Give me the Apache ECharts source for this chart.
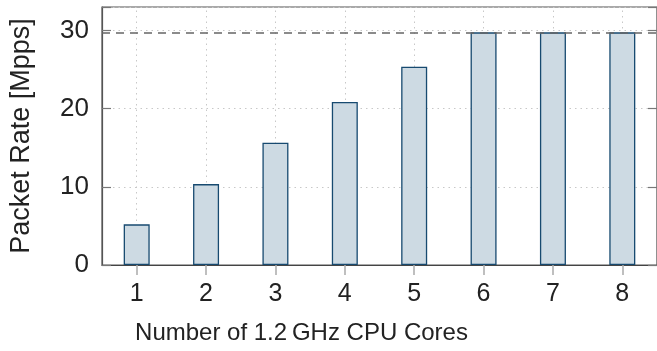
<!DOCTYPE html>
<html>
<head>
<meta charset="utf-8">
<script src="https://cdn.jsdelivr.net/npm/echarts@6/dist/echarts.min.js"></script>
<style>html,body{margin:0;padding:0;background:#fff;}#c{width:657px;height:351px;}</style>
</head>
<body>
<div id="c"></div>
<script>
const categories = ['1', '2', '3', '4', '5', '6', '7', '8'];
const packetRate = [5.2, 10.35, 15.65, 20.85, 25.35, 29.76, 29.76, 29.76];
const lineRate = 29.76;
const yTicks = [0, 10, 20, 30];
const xTitle = 'Number of 1.2\u2009GHz CPU Cores';
const yTitle = 'Packet Rate [Mpps]';

const FONT = 'Liberation Sans';
const GRID_DOT = {color: '#c8c8c8', type: [1.5, 4], width: 1};
const chart = echarts.init(document.getElementById('c'), null, {renderer: 'canvas'});
chart.setOption({
  animation: false,
  backgroundColor: '#fff',
  textStyle: {fontFamily: FONT, color: '#222'},
  grid: {left: 100, top: 7, width: 560, height: 258, show: true, borderColor: '#555', borderWidth: 1.2, containLabel: false},
  xAxis: {
    type: 'category',
    data: categories,
    boundaryGap: true,
    name: xTitle,
    nameLocation: 'middle',
    nameGap: 56,
    nameTextStyle: {fontFamily: FONT, fontSize: 24, color: '#222', padding: [0, 156, 0, 0]},
    axisLine: {show: true, lineStyle: {color: '#444', width: 1.2}},
    axisTick: {show: true, alignWithLabel: true, inside: false, length: 10, lineStyle: {color: '#aaa', width: 1.5}},
    axisLabel: {fontFamily: FONT, fontSize: 25, color: '#222', margin: 17},
    splitLine: {show: false}
  },
  yAxis: [{
    type: 'value',
    min: 0, max: 33, interval: 10,
    name: yTitle,
    nameLocation: 'middle',
    nameGap: 67,
    nameTextStyle: {fontFamily: FONT, fontSize: 27, color: '#222'},
    axisLine: {show: true, lineStyle: {color: '#555', width: 1.2}},
    axisTick: {show: true, inside: true, length: 9, lineStyle: {color: '#777', width: 1.2}},
    axisLabel: {fontFamily: FONT, fontSize: 26, color: '#222', margin: 13,
      formatter: v => yTicks.indexOf(v) >= 0 ? String(v) : ''},
    splitLine: {show: true, lineStyle: GRID_DOT}
  }, {
    type: 'value',
    position: 'right',
    min: 0, max: 33, interval: 10,
    axisLine: {show: true, lineStyle: {color: '#555', width: 1.2}},
    axisTick: {show: true, inside: true, length: 9, lineStyle: {color: '#777', width: 1.2}},
    axisLabel: {show: false},
    splitLine: {show: false}
  }],
  series: [{
    type: 'bar',
    data: packetRate,
    barWidth: 26,
    z: 3,
    itemStyle: {color: '#cddae3', borderColor: '#174a70', borderWidth: 1.3},
    markLine: {
      silent: true,
      symbol: 'none',
      z: 4,
      label: {show: false},
      data: [{yAxis: lineRate, lineStyle: {color: '#666', type: [8, 6], width: 1.5}}]
    }
  }, {
    type: 'line',
    data: [],
    markLine: {
      silent: true,
      symbol: 'none',
      z: 1,
      label: {show: false},
      lineStyle: GRID_DOT,
      data: categories.map((c, i) => ({xAxis: i, lineStyle: GRID_DOT}))
    }
  }]
});
</script>
</body>
</html>
